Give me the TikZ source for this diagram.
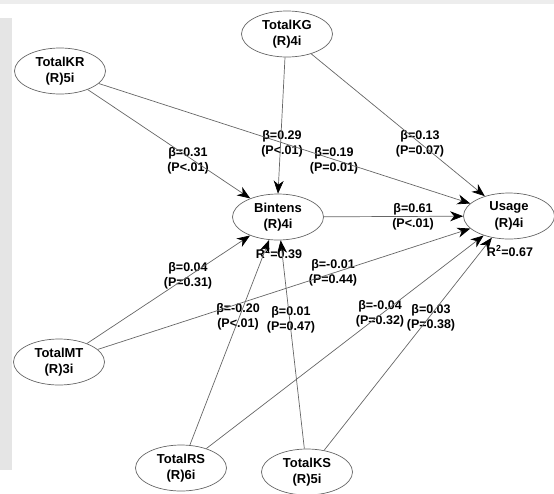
\documentclass[tikz,border=0pt]{standalone}
\usepackage{fontspec}
\setmainfont{Liberation Sans}
\usetikzlibrary{shapes.geometric,arrows.meta}
\begin{document}
\begin{tikzpicture}[x=1pt,y=-1pt,
 lat/.style={ellipse,draw=black!60,line width=0.7pt,minimum width=91pt,minimum height=46pt,inner sep=0pt,align=center,font=\bfseries\fontsize{13}{16.5}\selectfont},
 lbl/.style={align=center,font=\bfseries\fontsize{12.5}{15.5}\selectfont,inner sep=0pt},
 conn/.style={draw=black!60,line width=0.7pt,-{Stealth[length=13pt,width=10pt,inset=4pt,black]}}]
\useasboundingbox (0,0) rectangle (554,493);
\fill[black!10] (0,18) rectangle (12,470);
\fill[black!7] (0,0) rectangle (554,4);
% latent variables
\node[lat] (KG) at (287,34) {TotalKG\\(R)4i};
\node[lat] (KR) at (60,71) {TotalKR\\(R)5i};
\node[lat] (Bi) at (278,217) {Bintens\\(R)4i};
\node[lat] (Us) at (509,216) {Usage\\(R)4i};
\node[lat] (MT) at (59,362) {TotalMT\\(R)3i};
\node[lat] (RS) at (181,468) {TotalRS\\(R)6i};
\node[lat] (KS) at (307,472) {TotalKS\\(R)5i};
% labels
\node[lbl] (r2b) at (279,253) {R\textsuperscript{2}=0.39};
\node[lbl] (r2u) at (510,251) {R\textsuperscript{2}=0.67};
\node[lbl] (l1) at (188,161) {β=0.31\\(P<.01)};
\node[lbl] (l2) at (282,144) {β=0.29\\(P<.01)};
\node[lbl] (l3) at (334,161) {β=0.19\\(P=0.01)};
\node[lbl] (l4) at (420,144) {β=0.13\\(P=0.07)};
\node[lbl] (l5) at (413,217) {β=0.61\\(P<.01)};
\node[lbl] (l6) at (188,276) {β=0.04\\(P=0.31)};
\node[lbl] (l7) at (333,273) {β=-0.01\\(P=0.44)};
\node[lbl] (l8) at (238,317) {β=-0.20\\(P<.01)};
\node[lbl] (l9) at (291,320) {β=0.01\\(P=0.47)};
\node[lbl] (l10) at (380,314) {β=-0.04\\(P=0.32)};
\node[lbl] (l11) at (431,318) {β=0.03\\(P=0.38)};
% paths
\draw[conn] (KR) -- (Bi);
\draw[conn] (KR) -- (Us);
\draw[conn] (KG.south) ++(-2,0) coordinate (kgs) (kgs) -- (Bi.north);
\draw[conn] (KG) -- (Us);
\draw[conn] (Bi) -- (Us);
\draw[conn] (MT) -- (Bi);
\draw[conn] (MT) -- (Us);
\draw[conn] (RS) -- (Bi);
\draw[conn] (RS) -- (Us);
\draw[conn] (KS) -- (Bi);
\draw[conn] (KS) -- (Us);
\end{tikzpicture}
\end{document}
